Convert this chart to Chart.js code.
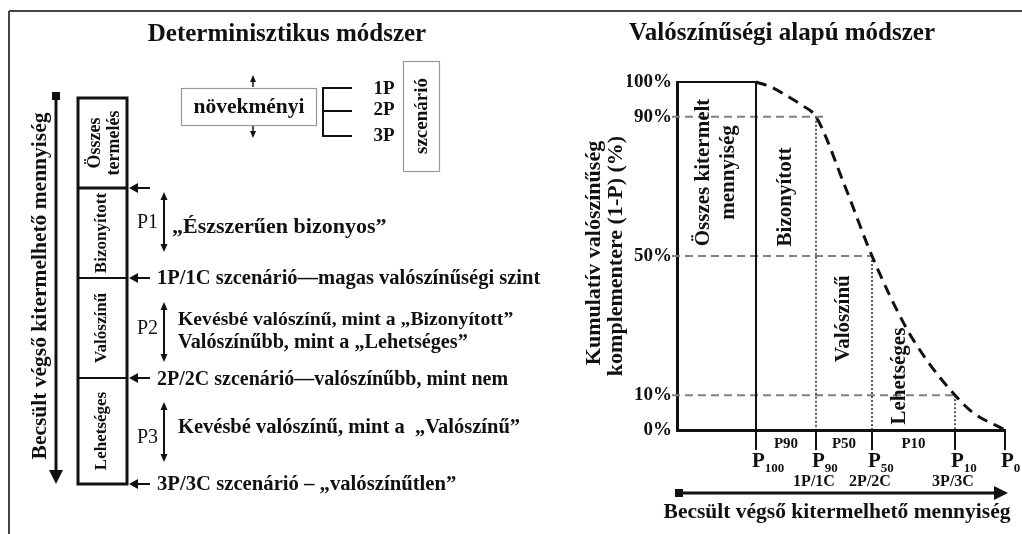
<!DOCTYPE html>
<html lang="hu">
<head>
<meta charset="utf-8">
<title>Determinisztikus és valószínűségi módszer</title>
<script src="https://cdn.jsdelivr.net/npm/chart.js@4.4.1/dist/chart.umd.min.js"></script>
<style>
  html, body { margin: 0; padding: 0; background: #fff; }
  #wrap { width: 1022px; height: 534px; }
</style>
</head>
<body>
<div id="wrap"><canvas id="chart" width="1022" height="534"></canvas></div>
<script>
// --- Data ---
const probLevels = [100, 90, 50, 10, 0];            // exceedance probability (%)
const pSubs = ['100', '90', '50', '10', '0'];
const pRecovery = [7.9, 13.9, 19.5, 27.8, 32.8];     // recovery at P100..P0
const scenarioNames = ['', '1P/1C', '2P/2C', '3P/3C', ''];
const bandNames = ['P90', 'P50', 'P10'];
const curveX = [7.9, 9.4, 11.0, 12.5, 13.9, 16.8, 19.5, 22.8, 25.0, 27.8, 29.6, 32.8];
const curveY = [100, 98.6, 96, 93.3, 90, 70, 50, 30, 20, 10, 5, 0];
const refLevels = [90, 50, 10];
const refEnds = [15.0, 19.5, 27.8];
const zoneLabels = [['Összes kitermelt', 'mennyiség'], ['Bizonyított'], ['Valószínű'], ['Lehetséges']];

const SERIF = '"Liberation Serif", "Times New Roman", serif';
const INK = '#111';

// --- Drawing helpers ---
function txt(ctx, s, x, y, size, opts = {}) {
    ctx.save();
    ctx.font = `${opts.weight || 'bold'} ${size}px ${SERIF}`;
    ctx.fillStyle = INK;
    ctx.textAlign = opts.align || 'center';
    ctx.textBaseline = opts.base || 'middle';
    if (opts.rot) {
        ctx.translate(x, y);
        ctx.rotate(-Math.PI / 2);
        ctx.fillText(s, 0, 0);
    } else {
        ctx.fillText(s, x, y);
    }
    ctx.restore();
}

function seg(ctx, x1, y1, x2, y2, w = 2, color = INK) {
    ctx.save();
    ctx.strokeStyle = color;
    ctx.lineWidth = w;
    ctx.beginPath();
    ctx.moveTo(x1, y1);
    ctx.lineTo(x2, y2);
    ctx.stroke();
    ctx.restore();
}

// filled triangular head, tip at (x,y)
function head(ctx, x, y, dir, len = 9, half = 5) {
    ctx.save();
    ctx.fillStyle = INK;
    ctx.beginPath();
    ctx.moveTo(x, y);
    if (dir === 'left') { ctx.lineTo(x + len, y - half); ctx.lineTo(x + len, y + half); }
    if (dir === 'right') { ctx.lineTo(x - len, y - half); ctx.lineTo(x - len, y + half); }
    if (dir === 'up') { ctx.lineTo(x - half, y + len); ctx.lineTo(x + half, y + len); }
    if (dir === 'down') { ctx.lineTo(x - half, y - len); ctx.lineTo(x + half, y - len); }
    ctx.closePath();
    ctx.fill();
    ctx.restore();
}

function doubleArrow(ctx, x, y1, y2) {
    seg(ctx, x, y1 + 4, x, y2 - 4, 2);
    head(ctx, x, y1, 'up', 8, 3.5);
    head(ctx, x, y2, 'down', 8, 3.5);
}

// --- Left panel (deterministic method) ---
function drawLeftPanel(ctx) {
    // frame
    seg(ctx, 9, 11, 1022, 11, 2, '#444');
    seg(ctx, 9, 11, 9, 534, 2, '#444');

    txt(ctx, 'Determinisztikus módszer', 287, 35, 25);

    // vertical quantity axis
    seg(ctx, 56, 96, 56, 472, 3);
    ctx.fillStyle = INK;
    ctx.fillRect(52, 92, 8, 8);
    head(ctx, 56, 484, 'down', 14, 7);
    txt(ctx, 'Becsült végső kitermelhető mennyiség', 40, 286, 21.5, { rot: true });

    // column
    ctx.save();
    ctx.strokeStyle = INK;
    ctx.lineWidth = 3;
    ctx.strokeRect(78, 98, 49, 386);
    ctx.restore();
    seg(ctx, 78, 188, 127, 188, 3);
    seg(ctx, 78, 278, 127, 278, 2);
    seg(ctx, 78, 378, 127, 378, 2);

    txt(ctx, 'Összes', 95, 143, 18, { rot: true });
    txt(ctx, 'termelés', 114, 143, 18, { rot: true });
    txt(ctx, 'Bizonyított', 102, 233, 17, { rot: true });
    txt(ctx, 'Valószínű', 102, 328, 17, { rot: true });
    txt(ctx, 'Lehetséges', 102, 431, 17, { rot: true });

    // scenario pointers
    [188, 278, 378, 484].forEach(y => {
        seg(ctx, 150, y, 136, y, 2);
        head(ctx, 129, y, 'left', 9, 5);
    });
    txt(ctx, '1P/1C szcenárió—magas valószínűségi szint', 157, 279, 20.5, { align: 'left' });
    txt(ctx, '2P/2C szcenárió—valószínűbb, mint nem', 157, 380, 20, { align: 'left' });
    txt(ctx, '3P/3C szcenárió – „valószínűtlen”', 157, 485, 20.7, { align: 'left' });

    // P1..P3 ranges
    txt(ctx, 'P1', 158, 223, 20, { weight: 'normal', align: 'right' });
    doubleArrow(ctx, 164, 192, 252);
    txt(ctx, '„Észszerűen bizonyos”', 172, 227, 22, { align: 'left' });

    txt(ctx, 'P2', 158, 329, 20, { weight: 'normal', align: 'right' });
    doubleArrow(ctx, 164, 302, 362);
    txt(ctx, 'Kevésbé valószínű, mint a „Bizonyított”', 178, 320, 19.7, { align: 'left' });
    txt(ctx, 'Valószínűbb, mint a „Lehetséges”', 178, 343, 20.2, { align: 'left' });

    txt(ctx, 'P3', 158, 438, 20, { weight: 'normal', align: 'right' });
    doubleArrow(ctx, 164, 402, 462);
    txt(ctx, 'Kevésbé valószínű, mint a  „Valószínű”', 178, 428, 20.5, { align: 'left' });

    // incremental / scenario legend
    ctx.save();
    ctx.strokeStyle = '#999';
    ctx.lineWidth = 1.2;
    ctx.strokeRect(181.5, 88.5, 135, 37);
    ctx.strokeRect(403.5, 61.5, 36, 110);
    ctx.restore();
    txt(ctx, 'növekményi', 249, 107, 21.5);
    seg(ctx, 253, 87, 253, 81, 1.5);
    head(ctx, 253, 75, 'up', 7, 3);
    seg(ctx, 253, 126, 253, 132, 1.5);
    head(ctx, 253, 138, 'down', 7, 3);

    seg(ctx, 323, 87, 323, 137, 2);
    [88, 111, 136].forEach(y => seg(ctx, 322, y, 352, y, 2));
    txt(ctx, '1P', 384, 89, 19);
    txt(ctx, '2P', 384, 110, 19);
    txt(ctx, '3P', 384, 136, 19);
    txt(ctx, 'szcenárió', 422, 116, 19, { rot: true });
}

// --- Right panel annotations (probabilistic method) ---
function drawRightAnnotations(chart) {
    const ctx = chart.ctx;
    const xs = chart.scales.x, ys = chart.scales.y;
    const area = chart.chartArea;
    const px = v => xs.getPixelForValue(v);
    const py = v => ys.getPixelForValue(v);

    txt(ctx, 'Valószínűségi alapú módszer', 782, 34, 25);

    // axis title
    txt(ctx, 'Kumulatív valószínűség', 594, 253, 22, { rot: true });
    txt(ctx, 'komplementere (1-P) (%)', 616, 256, 22, { rot: true });

    // zone labels
    const zoneX = [(0 + pRecovery[0]) / 2, (pRecovery[0] + pRecovery[1]) / 2, (pRecovery[1] + pRecovery[2]) / 2, 22.3];
    const zoneY = [74, 67, 32, 15.5];
    zoneLabels.forEach((lines, i) => {
        lines.forEach((s, j) => {
            const off = (j - (lines.length - 1) / 2) * 25;
            txt(ctx, s, px(zoneX[i]) + off, py(zoneY[i]), 21, { rot: true });
        });
    });

    // ticks below the x axis
    pRecovery.forEach(v => seg(ctx, px(v), area.bottom, px(v), area.bottom + 20, 2));

    // band names
    bandNames.forEach((s, i) => {
        txt(ctx, s, (px(pRecovery[i]) + px(pRecovery[i + 1])) / 2, area.bottom + 14, 15);
    });

    // P labels with subscripts and scenario names
    ctx.save();
    pRecovery.forEach((v, i) => {
        const x = px(v) - 4;
        ctx.font = `bold 21px ${SERIF}`;
        ctx.fillStyle = INK;
        ctx.textAlign = 'left';
        ctx.textBaseline = 'alphabetic';
        ctx.fillText('P', x, area.bottom + 37);
        const w = ctx.measureText('P').width;
        ctx.font = `bold 13px ${SERIF}`;
        ctx.fillText(pSubs[i], x + w, area.bottom + 42);
        if (scenarioNames[i]) txt(ctx, scenarioNames[i], px(v) - 2, area.bottom + 52, 16);
    });
    ctx.restore();

    // quantity arrow
    const ay = area.bottom + 63;
    seg(ctx, px(0) + 2, ay, px(pRecovery[4]) - 8, ay, 3);
    ctx.fillStyle = INK;
    ctx.fillRect(px(0) - 2, ay - 4, 8, 8);
    head(ctx, px(pRecovery[4]) + 3, ay, 'right', 14, 7);
    txt(ctx, 'Becsült végső kitermelhető mennyiség', 837, 512, 21.5);
}

const diagramPlugin = {
    id: 'diagram',
    beforeDraw(chart) {
        const ctx = chart.ctx;
        ctx.save();
        ctx.fillStyle = '#fff';
        ctx.fillRect(0, 0, chart.width, chart.height);
        ctx.restore();
    },
    afterDraw(chart) {
        drawLeftPanel(chart.ctx);
        drawRightAnnotations(chart);
    }
};

// --- Datasets ---
const pts = (xs, ys) => xs.map((x, i) => ({ x, y: ys[i] }));
const base = { pointRadius: 0, fill: false, clip: false, tension: 0 };
const refStart = -0.5; // dashed guides reach back to the tick labels

const datasets = [];
datasets.push({
    ...base,
    label: 'Komplementer kumulatív eloszlás',
    data: pts(curveX, curveY),
    borderColor: INK,
    borderWidth: 3,
    borderDash: [11, 7],
    cubicInterpolationMode: 'monotone'
});
datasets.push({
    ...base,
    label: 'Összes kitermelt mennyiség',
    data: [{ x: 0, y: probLevels[0] }, { x: pRecovery[0], y: probLevels[0] }, { x: pRecovery[0], y: 0 }],
    borderColor: INK,
    borderWidth: 2
});
for (let i = 1; i <= 3; i++) {
    datasets.push({
        ...base,
        label: 'P' + pSubs[i],
        data: [{ x: pRecovery[i], y: probLevels[i] }, { x: pRecovery[i], y: 0 }],
        borderColor: '#222',
        borderWidth: 1.5,
        borderDash: [2, 2]
    });
}
refLevels.forEach((lvl, i) => {
    datasets.push({
        ...base,
        label: lvl + '%',
        data: [{ x: refStart, y: lvl }, { x: refEnds[i], y: lvl }],
        borderColor: '#808080',
        borderWidth: 2,
        borderDash: [8, 5]
    });
});

new Chart(document.getElementById('chart'), {
    type: 'line',
    data: { datasets },
    options: {
        responsive: false,
        animation: false,
        events: [],
        layout: { padding: { left: 627, right: 17, top: 82, bottom: 104 } },
        plugins: { legend: { display: false }, tooltip: { enabled: false } },
        scales: {
            x: {
                type: 'linear',
                min: 0,
                max: pRecovery[4],
                grid: { display: false, drawTicks: false },
                ticks: { display: false },
                border: { display: true, color: INK, width: 3 },
                afterFit: s => { s.height = 0; }
            },
            y: {
                type: 'linear',
                min: 0,
                max: 100,
                grid: { display: false, drawTicks: false },
                border: { display: true, color: INK, width: 3 },
                afterBuildTicks: s => { s.ticks = probLevels.map(v => ({ value: v })); },
                afterFit: s => { s.width = 50; },
                ticks: {
                    padding: 5,
                    color: INK,
                    font: { family: SERIF, weight: 'bold', size: 19 },
                    callback: v => v + '%'
                }
            }
        }
    },
    plugins: [diagramPlugin]
});
</script>
</body>
</html>
